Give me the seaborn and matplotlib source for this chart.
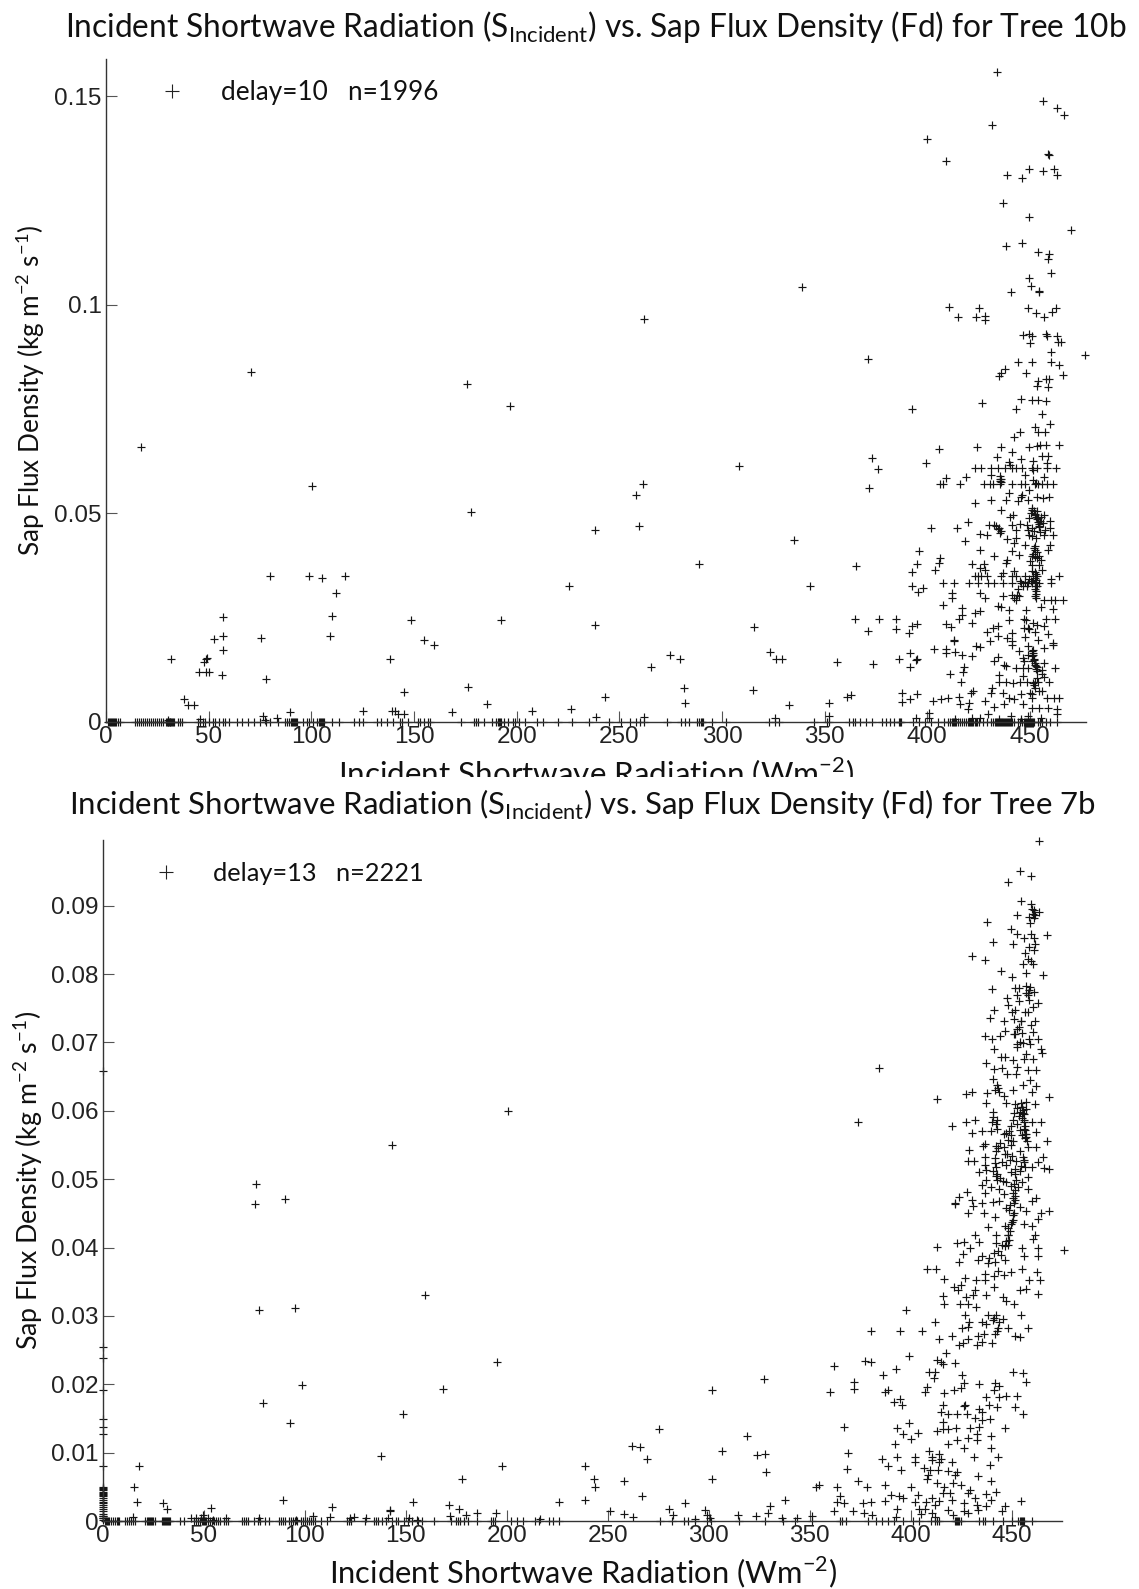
import numpy as np
import pandas as pd
import matplotlib
matplotlib.use("Agg")
import matplotlib.pyplot as plt
from matplotlib.lines import Line2D
from matplotlib.patches import Rectangle
import seaborn as sns

# values: (incident radiation, sap flux density)
tree10b_sparse = [
    (17, .0658), (70.8, .0839), (100.5, .0566), (80, .035), (98.9, .035), (105.4, .0344), (116.4, .035),
    (111.9, .0309), (110, .0255), (109.3, .0205), (57, .0251), (57, .0205), (52.4, .0199), (57, .0173),
    (56.7, .0112), (31.8, .0151), (49.4, .0153), (48.5, .015), (47.7, .0144), (45.3, .0121), (48.5, .0121),
    (50.3, .0121), (75.3, .0201), (77.8, .0103), (38, .0054), (40, .0041), (42.9, .0041), (138.3, .0151),
    (76.3, .0015), (77.4, .0004), (83.4, .001), (89.8, .0024), (125.3, .0026), (140.6, .0026), (45.8, .0006),
    (30.4, .0004), (176, .0811), (197, .0757), (178, .0503), (148.4, .0245), (192.5, .0245), (238, .0233),
    (155, .0197), (159.6, .0185), (145, .0073), (176.3, .0084), (185.6, .0043), (168.3, .0023), (207.4, .0027),
    (226.4, .0031), (139.5, .0026), (142, .0018), (145.3, .0019), (238, .0461), (225.5, .0326), (243, .006),
    (238.6, .0012), (262, .0965), (261.5, .0571), (258, .0545), (259.7, .047), (289, .0379), (274.9, .0161),
    (279.8, .0151), (265.5, .0133), (281.3, .0081), (281.8, .0045), (262, .0012), (308.5, .0614), (315.4, .0227),
    (315, .0077), (323.6, .0168), (326.5, .0151), (329.4, .0151), (332.8, .004), (325.6, .001), (339, .1043),
    (335, .0436), (343, .0326), (352.3, .0045), (352.3, .0014), (356, .0144), (361, .006), (362.8, .0065),
    (365.5, .0374), (365, .0247), (371, .0869), (373, .0632), (376, .0606), (371.5, .0562), (371, .0218),
    (376.6, .0248), (373.5, .014), (385, .0248), (384.8, .0223), (386, .0151), (387.7, .0069), (387.7, .0047),
]
tree10b_upper = [
    (434, .1557), (456.6, .1488), (463.3, .1472), (466.4, .1455), (431.6, .1431), (399.8, .1397), (409, .1345),
    (436.7, .1243), (449.5, .121), (470, .1179), (459.5, .1359), (459, .1362), (449.5, .1326), (456.2, .1321),
    (461.8, .1326), (463.3, .131), (438.7, .1312), (445.9, .1303), (438.3, .114), (445.9, .1147), (453.9, .1126),
    (459.3, .1122), (458.6, .111), (460.2, .1075), (449.5, .1063), (450.6, .1045), (440.7, .103), (454.4, .1031),
    (454.6, .1034), (410.5, .0995), (425.3, .0993), (415, .097), (423.7, .097), (428, .0974), (428, .0964),
    (449, .0993), (462.6, .0993), (453, .098), (460.6, .0983), (457, .097), (446.5, .0928), (449.5, .093),
    (451, .0924), (458, .093), (458.2, .0924), (463.3, .0924), (450, .0908), (463.8, .091), (465.3, .091),
    (460.4, .0887), (477, .088), (444.3, .0863), (451, .0863), (460.4, .0863), (464, .0856), (438, .0846),
    (435.8, .0836), (435, .083), (448, .0837), (466, .0831), (459.3, .0823), (457.7, .0821), (453.6, .0805),
    (458.8, .0803), (454, .0817), (392.4, .0749), (426.5, .0765), (443.4, .0751), (445.4, .0773), (451.2, .0771),
    (454, .0771), (457.6, .0769), (456, .0737), (459.9, .0715), (452.5, .0708), (454, .0694), (457.4, .0695),
    (445, .0695), (442.4, .0682), (449.5, .0658), (453.6, .0662), (455, .0664), (458, .0665), (464, .0664),
    (424, .0658), (435.8, .0658), (405.8, .0654), (441.4, .0646), (399.5, .0621),
]
tree10b_dense = [
    (423.4, .0609), (426.3, .0609), (431.2, .0609), (434.5, .0609), (437.9, .0609), (441.2, .0609), (443.4, .0609),
    (446.3, .0609), (451.2, .0609), (453.4, .0609), (458.3, .0609), (462.8, .0609), (433.8, .0634), (439.6, .0622),
    (445.4, .0631), (451.6, .0625), (456, .0638), (459, .0637), (458.3, .0621), (440.5, .0617), (451.6, .0603),
    (447.8, .0593), (431, .0591), (418.7, .0587), (409, .0585), (435.6, .0583), (435.6, .0577), (456.7, .0587),
    (406.2, .0571), (407.8, .0571), (415.8, .0571), (427.4, .0571), (430.7, .0571), (432.2, .0571), (435.6, .0571),
    (441.2, .0571), (445.6, .0571), (447.8, .0571), (452.3, .0571), (453.9, .0571), (456, .0571), (458.3, .0571),
    (461.2, .0571), (440, .0549), (446.3, .0545), (445.6, .0539), (453.4, .0539), (456.3, .0536), (459.4, .0539),
    (431.1, .0533), (438.3, .0531), (444, .0529), (449, .0531), (423.4, .0526), (436, .0507), (441.6, .0495),
    (440.5, .0491), (451.2, .0509), (452.3, .0497), (453.9, .0489), (455, .0481), (457, .0497), (460, .0481),
    (453.5, .0505), (402, .0465), (414.4, .0465), (419.6, .0479), (430, .0471), (432.3, .0471), (435, .0465),
    (435.6, .0453), (441.2, .0471), (445.2, .0475), (443.2, .0461), (449, .0461), (451.2, .0465), (454.5, .0469),
    (460, .0465), (461.2, .0447), (456.7, .0449), (451.2, .0445), (425.6, .0451), (429, .0449), (418.5, .0434),
    (439, .0439), (442.3, .0429), (443.4, .0441), (447.8, .0425), (452.3, .0421), (460, .0425), (425.6, .0413),
    (396, .0411), (441.2, .0409), (432.3, .0399), (444.5, .0401), (451.2, .0399), (454.5, .0399), (458.8, .0413),
    (406.2, .0393), (405.6, .0381), (395, .0379), (421.6, .0379), (427.4, .0379), (438.9, .0389), (438.3, .0381),
    (451.2, .0377), (454.5, .0377), (456, .0365), (403.8, .0365), (392.4, .0359), (423.4, .0349), (426.3, .0349),
    (429, .0349), (424.9, .0349), (435.8, .0349), (441.2, .0349), (443.4, .0349), (447.8, .0349), (451.6, .0349),
    (453.4, .0349), (460.2, .0343), (464.3, .0349), (428.3, .0365), (425.6, .0369), (436.7, .0357), (442.3, .0361),
    (451.2, .0361), (407.8, .0332), (412.9, .0332), (420.5, .0332), (424.5, .0332), (429.6, .0332), (432.7, .0332),
    (436.7, .0332), (441.2, .0332), (445.6, .0332), (449, .0332), (451.2, .0332), (452.8, .0332), (454.5, .0332),
    (460.2, .0332), (392.4, .0326), (398, .032), (395.5, .0311), (412.2, .0309), (412.2, .0297), (425.6, .0309),
    (427.9, .0297), (436.7, .0301), (441.2, .0305), (442.3, .0297), (443.4, .0293), (452.3, .0301), (452.8, .0313),
    (453.4, .0325), (456.7, .0293), (460.2, .0293), (462.3, .0293), (466, .0293), (407.8, .028), (416.7, .0273),
    (434.4, .0277), (436, .0276), (440, .0269), (448.3, .0269), (455.6, .0275), (461.2, .0271), (423.4, .0261),
    (425.6, .0265), (416.7, .0257), (415.5, .0247), (439.6, .0245), (447, .0247), (448.3, .0244), (457.9, .0247),
    (462.3, .0247), (421.8, .0237), (408.9, .0235), (411.6, .0228), (395, .0235), (392.4, .0229), (391, .0213),
    (434.4, .0229), (432, .0225), (429, .0216), (441.2, .0213), (453.4, .0233), (456.7, .0231), (449, .0225),
    (458.9, .0212), (434.4, .0205), (439, .0201), (430.7, .0193), (413, .0197), (413, .0193), (453.9, .0197),
    (461.2, .0189), (461.2, .0184), (441.2, .0193), (441.2, .0184), (425.6, .0179), (423.9, .0181), (403.3, .0175),
    (409.3, .0175), (409.3, .0165), (413.3, .0168), (416.7, .0161), (421.6, .0159), (444.5, .0169), (449, .0181),
    (451.2, .0169), (456.7, .0177), (446.7, .0153), (451.2, .0157), (451.2, .0145), (452.3, .0137), (434.4, .0155),
    (432.7, .0145), (391.5, .0165), (394.4, .0148), (394.8, .015), (391.7, .0133), (417.8, .0133), (417.3, .012),
    (411, .0114), (437.2, .0137), (438.3, .0135), (443.4, .0129), (446.7, .0129), (449, .0129), (453.4, .0133),
    (456.7, .0141), (462.3, .0129), (435, .0113), (446.7, .0111), (456.7, .0109), (435, .0097), (438.3, .0097),
    (441.7, .0093), (445.1, .0095), (448.4, .0095), (452.3, .0097), (454, .0095), (459.5, .0097), (416.2, .0095),
    (391.7, .0054), (395, .0067), (402.6, .0051), (406.7, .0055), (410, .0058), (415.6, .006), (421.1, .007),
    (422.2, .0074), (416, .0042), (420.5, .0046), (420, .003), (427.9, .005), (431.1, .007), (431.6, .0081),
    (436.7, .007), (440, .0058), (445.6, .0067), (451.2, .0066), (450.8, .0058), (455.8, .0074), (458.3, .0058),
    (461.6, .0058), (464.2, .0058), (432.7, .0035), (437.2, .0042), (442.3, .0054), (446.7, .0042), (451.2, .0034),
    (454.5, .0034), (458.9, .0034), (463, .003), (463, .0018), (429.4, .0018), (425.6, .001), (441, .0014),
    (449, .0014), (394.4, .001), (401, .0022), (401, .001), (413.3, .0008), (422, .001), (435, .0007),
    (445.6, .0007), (455.6, .001),
]
# darker knots of the cloud around x=450, where the crosses pile up
tree10b_core = [
    (451.2, .0512), (451.8, .0505), (452.4, .0498), (452.8, .0492), (453.3, .0486), (453.8, .048), (454.2, .0474),
    (454.6, .0468), (450.5, .0502), (455.6, .0492), (456.2, .0478), (449.6, .0488), (448.7, .0473), (452.1, .0458),
    (455.1, .0456), (457.4, .0461), (449.4, .0447), (453.1, .0441), (452.1, .0418), (452.6, .0412), (453.2, .0408),
    (451.4, .0402), (452.5, .0396), (453.6, .0393), (455.6, .0389), (450.1, .0386), (452.7, .036), (452.9, .0355),
    (452.6, .0346), (453.1, .034), (452.7, .0335), (452.9, .0326), (452.5, .0318), (452.8, .0307), (453, .0296),
    (450.6, .0338), (449.7, .0342), (447.6, .0336), (448.8, .0327), (446.6, .0327), (445.1, .0338), (444.4, .0319),
    (443.8, .0304), (444.9, .0302), (451.4, .0173), (451.6, .0166), (451.5, .0161), (451.8, .0152), (452.1, .0148),
    (452.6, .0141), (453.1, .0135), (452.9, .0128), (453.5, .0122), (449.1, .016), (447.2, .0147), (455.7, .0125),
    (455.9, .0115), (453.2, .0105), (451.5, .0094), (451.9, .0088), (452.6, .0081), (454.3, .0074), (449.8, .0069),
    (435.8, .0583), (435.2, .0589), (436.1, .0576), (451.7, .0581), (452.8, .0574), (449.7, .0555), (433.5, .047),
    (434.6, .0462), (435.9, .0458), (447.2, .0225), (449.7, .0222), (451.6, .0238), (447.6, .0204), (452.7, .0215),
]
tree10b_zero_x = [
    1, 1.5, 2, 2.5, 3, 3.5, 4, 4.5, 5, 6, 7, 14, 15, 16, 17, 18, 19, 20, 21, 22, 23, 24, 25, 26, 27, 28, 29, 29.5, 30,
    30.3, 30.6, 31, 31.3, 31.6, 32, 32.4, 33, 35, 36, 37, 45, 46, 47, 48, 50, 52, 53, 55, 57, 58, 60, 64, 66, 69, 72,
    75, 78, 80, 84, 87, 88, 89, 90, 90.5, 91, 91.5, 92, 92.5, 93, 96, 98, 99, 101, 103, 103.5, 104, 104.5, 105, 105.5,
    106, 110, 113.5, 121, 123, 125, 132, 134, 137, 140, 143, 144, 147, 152, 153, 155, 157, 158, 173, 179, 180, 181,
    184, 188, 190, 191, 191.5, 192, 192.5, 194, 196, 198, 199, 201, 204, 210, 213, 220, 227, 235, 245, 251, 255, 258,
    260, 262, 273, 280, 282, 284, 288, 289, 290, 290.5, 291, 295, 302, 323, 326, 328, 345, 351, 352, 362, 364, 365,
    367, 370, 373, 378, 380, 382, 384, 386, 386.5, 387, 393, 396, 399, 402, 405, 408, 410, 411, 412, 412.5, 413, 413.5,
    414, 415, 416, 417, 418, 419, 420, 420.5, 421, 421.5, 422, 422.5, 423, 423.5, 424, 425, 427, 429, 431, 432, 433,
    433.5, 434, 434.5, 435, 435.5, 436, 436.5, 437, 437.5, 438, 438.5, 439, 439.5, 440, 440.5, 441, 441.5, 442, 444,
    445, 446, 447, 447.5, 448, 448.5, 449, 449.5, 450, 450.5, 451, 451.5, 452, 454, 455, 456, 458, 460, 463,
]

tree7b_sparse = [
    (76, .0493), (75.5, .0464), (90, .0471), (77.4, .0308), (95.3, .0311), (98.4, .0199), (79.4, .0172), (92.6, .0143),
    (137.5, .0095), (89.2, .0031), (17.8, .0081), (15.2, .005), (16.8, .0028), (29.7, .0026), (31.7, .0017), (14.9, .0006),
    (53.3, .0019), (43.8, .0004), (46.2, .0004), (48.7, .0005), (49.5, .0009), (52, .0004), (54.5, .0002), (60.8, .0004),
    (77.4, .0005), (104, .0007), (113.6, .002), (112.3, .0006), (124.3, .0006), (122.2, .0005), (130.4, .0004), (142.3, .0015),
    (141.2, .0005), (95.8, .0002), (143, .055), (200.5, .0599), (159.7, .0331), (195, .0232), (168.3, .0193), (148.4, .0157),
    (197.6, .0081), (177.9, .0061), (153.5, .0028), (142.4, .0016), (171.4, .0023), (176.1, .0017), (179.6, .0009), (185.4, .0011),
    (194.7, .0011), (171.9, .0007), (151.5, .0005), (155.3, .0002), (225.7, .0028), (238.6, .0081), (243, .0062), (243.5, .005),
    (238.8, .0031), (258.3, .0058), (261.9, .0109), (265.9, .0108), (269.2, .0091), (267, .0036), (275.2, .0134), (301.5, .0191),
    (327.2, .0208), (319, .0124), (324.1, .0097), (327.7, .0098), (328.6, .0072), (306.4, .0103), (301.5, .0061), (288.2, .0026),
    (280.2, .0017), (282.2, .0009), (251.2, .0014), (257.9, .001), (262.3, .0006), (298, .0016), (299.3, .0009), (300.6, .0005),
    (293.1, .0003), (314.6, .0009), (323.2, .0007), (329.2, .0011), (330.6, .0022), (337.9, .0031), (336.1, .0005), (343.6, .0005),
    (351, .0007), (216.4, .0003), (354.7, .0053), (353.2, .0049), (362, .0226), (360, .0189), (372.2, .0203), (372.2, .0193),
    (367.1, .0138), (369.1, .01), (368.7, .0076), (363.6, .005), (374.2, .0059), (378.6, .005), (364.9, .0037), (363.6, .0028),
    (366.9, .0026), (376.4, .0026), (380.4, .0028), (371.3, .0015), (362, .0015), (377.1, .0011), (380.9, .0009), (377.5, .0234),
    (380.6, .0233), (380.6, .0278), (374, .0584), (384.2, .0662),
]
tree7b_upper = [
    (463.8, .0994), (454, .095), (459.7, .0943), (448.4, .0934), (454.7, .0907), (459.8, .0903), (463.7, .0891), (461.1, .0893),
    (460.6, .0888), (452.7, .0886), (458.9, .0883), (438, .0876), (459.1, .0874), (449.6, .0866), (452.7, .0858), (459.8, .0859),
    (467.5, .0857), (456, .0853), (461.3, .0853), (440.9, .0847), (450.9, .0844), (461.7, .0844), (458.9, .084), (461.3, .0835),
    (456.9, .083), (430.3, .0827), (436.7, .0821), (458.4, .0822), (459.5, .0819), (455.5, .0814), (460.6, .0814), (444.9, .0804),
    (457.1, .0802), (465.5, .0799), (450, .0795), (440.3, .0778), (451.8, .078), (453.5, .0779), (457.3, .0782), (457.3, .0772),
    (461.3, .0773), (452.9, .077), (448, .0765), (453.5, .0761), (458.9, .0762), (462.9, .0758), (448.4, .0755), (460.6, .0752),
    (441.4, .0748), (451.8, .0748), (450.2, .0744), (458.4, .0744), (439.1, .0736), (446.2, .0732), (451.1, .0734), (454.7, .0732),
    (461.7, .0731), (459.5, .0725), (452.9, .0719), (446.7, .0716), (460.6, .0715), (455.1, .0714), (451.8, .0712), (436.9, .0709),
    (440.3, .0705), (444.5, .071), (463.1, .0705), (458.9, .0705), (454.4, .0701), (459.1, .0698), (452.9, .0693), (441.4, .069),
    (464.6, .0691), (465, .0685), (457.3, .0683), (444.7, .0679), (446.7, .0679), (450.7, .0674), (456.2, .0676), (460.6, .0676),
    (437.6, .067), (452.9, .0664), (441.1, .0661), (445.1, .0662), (448, .0654), (452.4, .0654), (458.4, .066), (462.2, .0659),
    (459.1, .0645), (455.5, .0637), (462.2, .0636), (443.4, .0634), (438, .0626), (443.6, .0628), (450.7, .0631), (459.9, .0628),
    (427.6, .0624), (430.3, .0628), (413, .0617), (468.8, .062), (446.2, .0622), (437.2, .0612), (447.3, .0612), (451.8, .061),
    (455.1, .0606), (457.3, .0613), (461.7, .061), (454, .0598), (456.2, .0595), (427.4, .0584), (431.8, .0587), (440.7, .0598),
    (442.9, .0586), (450.7, .0586), (452.9, .0581), (456.2, .0583), (460.2, .0583), (464.4, .0583), (420.3, .0577), (449.6, .0577),
    (430.3, .0568), (435.6, .0571), (439.6, .057), (442.9, .0574), (446.2, .0566), (449.6, .0564), (456.2, .0574), (456.9, .0566),
    (462.2, .0569), (457.3, .0561), (448.4, .0557), (467.5, .0556), (436.9, .0552), (435.8, .0549), (442.5, .0548), (446.2, .0547),
    (449.6, .055), (462.2, .0547), (458.4, .0547), (429, .0542), (442.5, .0541), (454, .0541), (446.7, .0537), (436.7, .0532),
    (465.5, .0532), (428.5, .0527), (431.4, .0526), (445.1, .0525), (456.2, .0528), (462.9, .0525), (436.9, .052), (447.3, .052),
    (451.8, .0515), (460.2, .0518), (466.2, .0516), (468.4, .0515), (434, .0511), (437.4, .0514), (442.9, .0508), (449.6, .0511),
    (454, .0512), (458.4, .0503), (437.4, .0499), (442.9, .0499), (447.3, .0496), (455.1, .0496), (435.2, .0491), (439.6, .0489),
    (444, .0486), (449.6, .049), (458.4, .0486), (436.9, .048), (428, .0481), (446.2, .0478), (451.8, .0476), (424.1, .0474),
    (421.9, .0465), (430.3, .047), (435.2, .0465), (440.7, .0467), (444, .0468), (451.8, .047), (462.2, .0472), (460, .0468),
    (430.7, .046), (447.3, .0458), (454.3, .0459),
]
tree7b_lower = [
    (394.8, .0278), (397.5, .0308), (405.7, .0278), (412.1, .0291), (386.2, .0214), (393, .0222), (399, .0241), (387.5, .0188),
    (388.6, .0192), (391.9, .0174), (394.6, .0178), (395.7, .0169), (393.5, .0136), (399, .0144), (396, .0127), (400.1, .012),
    (403.7, .0128), (392.4, .0113), (385.7, .0091), (393.5, .0093), (388.6, .008), (402.4, .0094), (402.4, .0087), (395.3, .0074),
    (387.5, .0053), (400.4, .005), (390.2, .0038), (394.2, .0036), (396.4, .0033), (387.1, .0029), (403.7, .0038), (393.5, .0017),
    (402, .0028), (404.1, .0018), (407, .0018), (405.2, .001), (393, .0006), (407, .0188), (407.9, .0196), (409.2, .0218),
    (411.9, .0218), (411.4, .0209), (413, .0235), (415.2, .0232), (416.3, .023), (417.4, .0246), (421.9, .0231), (414.1, .0266),
    (420.3, .0271), (424.1, .0257), (425.9, .026), (428.5, .0266), (432.9, .0257), (435.2, .0262), (440.3, .026), (425.6, .0282),
    (428.5, .0284), (427, .0301), (429, .0291), (435.2, .0291), (440.7, .0294), (442.5, .0302), (445.8, .0296), (437.4, .0288),
    (442.9, .0278), (448.4, .0282), (451.8, .027), (454.4, .0269), (458.4, .0282), (454.7, .0302), (436.3, .0274), (424.5, .0317),
    (428.5, .0318), (416.8, .0318), (415.9, .0329), (421.4, .0342), (425.2, .0345), (430.7, .033), (431.8, .0338), (427, .0355),
    (432.3, .0352), (436.7, .0353), (441.4, .0358), (445.6, .0328), (447.3, .0322), (437.4, .033), (441.1, .0342), (432.3, .0313),
    (451.1, .0318), (454, .0338), (457.3, .0339), (462.9, .0332), (458.9, .0352), (464, .0352), (462.4, .0364), (446.2, .036),
    (449.6, .0364), (455.1, .0369), (443.4, .0366), (408, .0368), (412.6, .0369), (424.1, .0379), (435.2, .0387), (438.5, .0377),
    (441.8, .0379), (446.7, .0381), (456.2, .0387), (462.9, .0387), (425.8, .0391), (429.6, .0399), (434, .0408), (423, .0407),
    (426.3, .0408), (413, .0401), (442.5, .0406), (445.1, .0403), (448.4, .0403), (455.1, .04), (463.3, .0399), (476.2, .0396),
    (460.6, .0412), (448.4, .0418), (461.7, .0418), (431.8, .0418), (442.3, .0418), (438.5, .043), (446.9, .0431), (460.2, .0431),
    (456.2, .0435), (462.9, .0441), (468.8, .0453), (464.4, .0451), (428.3, .045), (436.3, .045), (441.8, .0445), (450.7, .044),
    (451.3, .045), (457.3, .0453), (421.9, .0464), (416.8, .0187), (421.4, .0191), (425.2, .0194), (426.3, .0202), (434, .0201),
    (441.8, .0202), (443.6, .0197), (437.4, .0182), (444, .0182), (447.3, .0183), (452.9, .0183), (451.8, .0167), (455.5, .0157),
    (455.8, .0216), (457.3, .0203), (450.7, .0218), (441.1, .0191), (416.3, .0169), (426.3, .0168), (426.9, .0169), (434, .0164),
    (438.9, .017), (442.9, .0167), (415.2, .0159), (418.5, .0156), (423, .0157), (428.1, .0156), (435.2, .016), (431.8, .015),
    (439.1, .0149), (416.3, .0145), (435.2, .0148), (413, .0132), (416.3, .0134), (418.5, .0134), (422.5, .0136), (429.6, .0136),
    (434, .0138), (446.7, .0136), (432.9, .0127), (418.5, .0113), (423, .0119), (428.5, .0121), (432.9, .0118), (439.6, .0124),
    (426.3, .0107), (440, .0107), (409.2, .0103), (410.8, .0094), (414.1, .0098), (415.2, .009), (410.8, .0089), (414.1, .0087),
    (420.7, .0086), (431.2, .0094), (443.4, .0094), (439.1, .0082), (406.8, .0077), (409.7, .0075), (413.7, .0074), (418.5, .0073),
    (423, .0072), (408.6, .0067), (407.9, .0062), (421.9, .0067), (433.6, .0066), (440, .0058), (420.8, .0056), (425.2, .0053),
    (413, .0055), (416.8, .005), (429.6, .0046), (415.9, .0041), (419.6, .0041), (428.5, .0041), (442.5, .0043), (437.4, .004),
    (410.8, .0033), (407.5, .0028), (414.1, .0029), (420.7, .0031), (431.8, .0033), (426.3, .0026), (432.9, .0023), (439.6, .0031),
    (446.7, .0022), (454.7, .0029), (411.9, .0023), (418.5, .0016), (426.3, .0015), (433.6, .0016), (445.1, .0014), (410.8, .0011),
    (411.9, .0006), (420.8, .0009), (428.5, .0012), (437.4, .0022),
]
# piled-up crosses along the steep part of the cloud
tree7b_core = [
    (454.6, .0612), (455.1, .0606), (455.5, .0601), (455.8, .0596), (455.2, .059), (456.3, .0586), (453.6, .0593),
    (457.1, .0603), (452.7, .0604), (451.1, .0596), (456.5, .0578), (456.9, .0572), (457.2, .0566), (456.6, .056),
    (457.6, .0556), (455.4, .0564), (454.2, .0572), (447.3, .0567), (448.6, .0571), (450.5, .0556), (455.7, .0532),
    (456.2, .0525), (456.8, .0518), (454.6, .0519), (452.1, .0526), (450.3, .0534), (449.1, .0528), (447.6, .0537),
    (451.8, .0507), (452.3, .0499), (451.4, .0493), (453.2, .0488), (451.8, .0484), (450.6, .0479), (450.9, .0472),
    (451.3, .0465), (449.2, .0462), (448.6, .0455), (450.7, .0447), (450.4, .0438), (449.6, .0434), (448.1, .0428),
    (449.3, .0424), (448.4, .0418), (448.7, .0411), (447.4, .0409), (446.9, .0402), (443.3, .0395), (444.6, .0389),
    (441.1, .0392), (438.9, .0385), (433.3, .0382), (436.8, .0361), (452.8, .0698), (455.6, .0699), (451.3, .0712),
    (453.7, .0722), (454.9, .0731), (456.6, .0744), (458.1, .0772), (458.6, .0777), (459.1, .0781), (458.4, .0769),
    (461.6, .0887), (461, .0882), (460.1, .0895), (440.6, .0647), (442.6, .0637), (441.7, .063), (440.9, .0591),
    (440.3, .0584), (442.1, .058), (444.2, .0553), (443.2, .0546), (441.8, .0531), (441.6, .0523), (442.4, .0518),
    (440.9, .0512), (442.3, .0505), (444.1, .0501), (445.7, .0497), (416.6, .0354), (423.7, .0338), (427.4, .0328),
    (438.5, .0302), (441.3, .0297), (443.6, .0291), (443.1, .0283), (425.6, .0214), (441.9, .0274), (433.4, .0271),
]
tree7b_zero_x = [
    1, 1.5, 2, 2.5, 3, 4, 5, 6, 7, 7.5, 8, 11, 12, 13, 14, 15, 16, 21, 22, 22.5, 23, 23.5, 24, 24.5, 25, 26, 29, 29.5,
    30, 30.5, 31, 31.5, 32, 32.5, 33, 38, 40, 45, 46, 47, 48, 49, 49.5, 50, 50.5, 51, 52, 53, 54, 55, 56, 57, 58, 60,
    61, 62, 69, 70, 71, 72, 75, 77, 78, 80, 82, 87, 88, 89, 90, 92, 93, 94, 95, 96, 98, 99, 100, 101, 102, 103, 104,
    105, 108, 111, 121, 122, 123, 130, 134, 135, 136, 138, 140, 143, 145, 146, 149, 151, 153, 156, 158, 164, 172.5,
    175, 176, 177, 179, 181, 185, 192, 193, 194, 202, 205, 208, 214, 216, 221, 223, 226, 276, 282, 288, 290, 293, 299,
    301, 315, 328, 337, 343, 351, 365, 366, 368, 379, 383, 386, 389, 392, 396, 401, 404, 410, 412, 413, 414, 422,
    422.5, 423, 423.5, 424, 425, 434, 436, 437, 441, 446, 450, 453, 454, 454.5, 455, 455.5, 456, 460,
]
tree7b_axis_y = [
    .0658, .0255, .0239, .0192, .0149, .0137, .0127, .0081, .005, .0048, .0047, .0045, .0043, .0041, .004, .0038,
    .0037, .0034, .003, .0028, .0027, .0024, .002, .0017, .0014, .001, .0008, .0007, .0005, .0004, .0002,
]

ticks_x = [0, 50, 100, 150, 200, 250, 300, 350, 400, 450]
ticks_top_y = [0, 0.05, 0.1, 0.15]
labels_top_y = ['0', '0.05', '0.1', '0.15']
ticks_bottom_y = [0, 0.01, 0.02, 0.03, 0.04, 0.05, 0.06, 0.07, 0.08, 0.09]
labels_bottom_y = ['0', '0.01', '0.02', '0.03', '0.04', '0.05', '0.06', '0.07', '0.08', '0.09']

sns.set_style('ticks')
plt.rcParams['font.family'] = ['Lato', 'DejaVu Sans']

W, H = 1139, 1589
fig = plt.figure(figsize=(W / 100, H / 100), dpi=100)


def box(left, right, top, bottom):
    return [left / W, 1 - bottom / H, (right - left) / W, (bottom - top) / H]


def frame(points, zero_x, axis_y=()):
    pts = np.array(points)
    x = np.concatenate([pts[:, 0], zero_x, np.zeros(len(axis_y))])
    y = np.concatenate([pts[:, 1], np.zeros(len(zero_x)), axis_y])
    return pd.DataFrame({'radiation': x, 'flux': y})


def panel(ax, df, xmax, ymax, yticks, ylabels, title, legend_text, sizes, title_pad, leg_xy):
    sns.scatterplot(data=df, x='radiation', y='flux', marker='+', s=32, color='#151515',
                    linewidth=0.85, clip_on=False, legend=False, ax=ax)
    ax.set_xlim(0, xmax)
    ax.set_ylim(0, ymax)
    ax.set_xticks(ticks_x)
    ax.set_xticklabels([str(t) for t in ticks_x])
    ax.set_yticks(yticks)
    ax.set_yticklabels(ylabels)
    ax.tick_params(direction='in', length=8, width=0.8, color='#555555', pad=3, labelsize=17.5, labelcolor='#222222')
    for lab in ax.get_xticklabels() + ax.get_yticklabels():
        lab.set_family('Liberation Sans')
    for side in ['top', 'right']:
        ax.spines[side].set_visible(False)
    for side in ['left', 'bottom']:
        ax.spines[side].set_linewidth(1.0)
        ax.spines[side].set_color('#333333')
    ax.set_xlabel('Incident Shortwave Radiation (Wm$^{\\mathregular{-2}}$)', fontsize=sizes['xlabel'], color='#111111')
    ax.xaxis.set_label_coords(0.5, -0.05)
    ax.set_ylabel('Sap Flux Density (kg m$^{\\mathregular{-2}}$ s$^{\\mathregular{-1}}$)', fontsize=sizes['ylabel'], color='#111111')
    ax.yaxis.set_label_coords(-0.06, 0.5)
    ax.set_title(title, fontsize=sizes['title'], color='#111111', pad=title_pad)
    handle = Line2D([], [], linestyle='none', marker='+', markersize=10, markeredgewidth=0.8, color='#222222')
    ax.legend([handle], [legend_text], loc='upper left', bbox_to_anchor=leg_xy, frameon=False,
              fontsize=sizes['legend'], handletextpad=0.85, labelcolor='#111111')


ax_top = fig.add_axes(box(106, 1086, 59, 722))
panel(ax_top, frame(tree10b_sparse + tree10b_upper + tree10b_dense + tree10b_core, tree10b_zero_x), 477.3, 0.1589,
      ticks_top_y, labels_top_y,
      'Incident Shortwave Radiation (S$_{\\mathregular{Incident}}$) vs. Sap Flux Density (Fd) for Tree 10b',
      'delay=10   n=1996', {'xlabel': 22.6, 'ylabel': 18.8, 'title': 22.8, 'legend': 18.8}, 15.5, (0.017, 1.004))

ax_bottom = fig.add_axes(box(103, 1062, 840, 1521))
panel(ax_bottom, frame(tree7b_sparse + tree7b_upper + tree7b_lower + tree7b_core, tree7b_zero_x, tree7b_axis_y), 475, 0.0996,
      ticks_bottom_y, labels_bottom_y,
      'Incident Shortwave Radiation (S$_{\\mathregular{Incident}}$) vs. Sap Flux Density (Fd) for Tree 7b',
      'delay=13   n=2221', {'xlabel': 22.2, 'ylabel': 19.3, 'title': 22.4, 'legend': 18.3}, 18, (0.015, 1.001))

# top panel's x label is cut off by the second image in the source
fig.add_artist(Rectangle((0, 1 - 790 / H), 1, 13 / H, transform=fig.transFigure, facecolor='white',
                         edgecolor='none', zorder=0.5))
ax_bottom.set_zorder(1)
ax_top.set_zorder(0)

fig.savefig('out.png', dpi=100)
